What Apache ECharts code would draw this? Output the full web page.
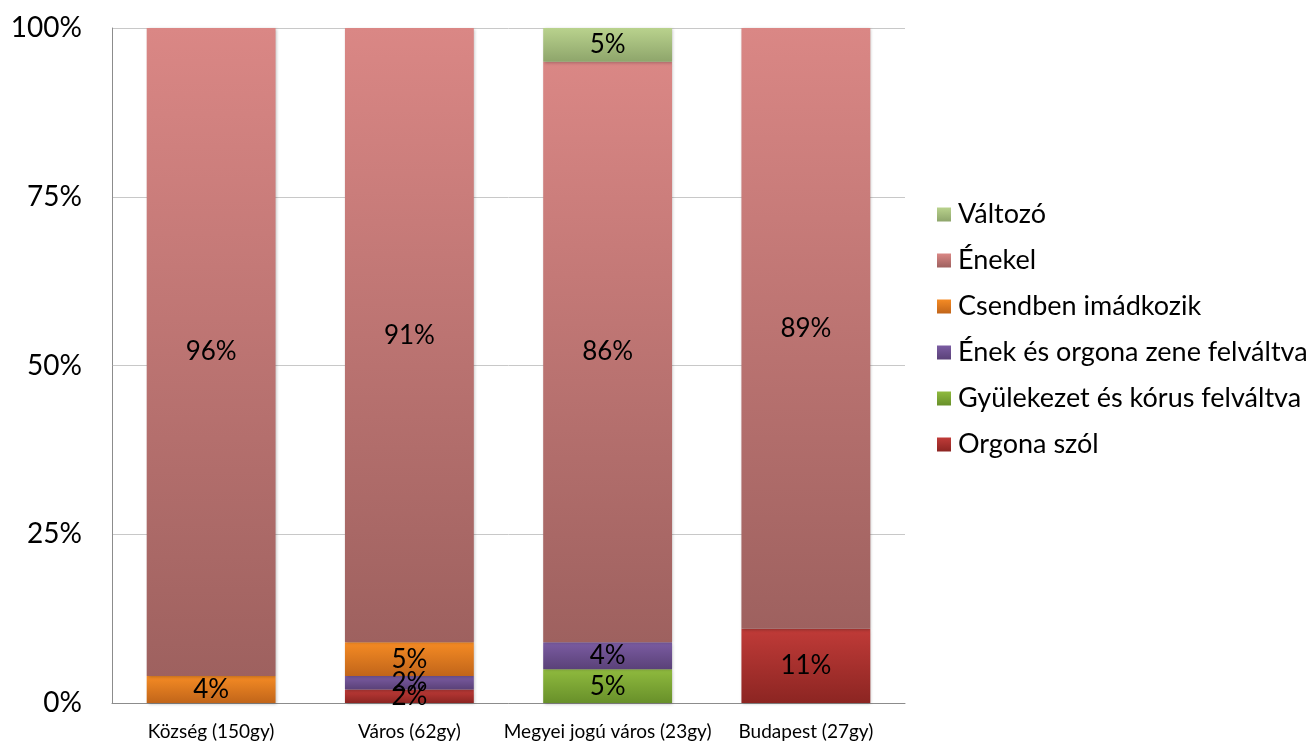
<!DOCTYPE html>
<html><head><meta charset="utf-8">
<script src="https://cdn.jsdelivr.net/npm/echarts@6/dist/echarts.min.js"></script>
<style>html,body{margin:0;padding:0;background:#fff}#c{width:1310px;height:745px}</style>
</head><body><div id="c"></div>
<script>
const categories = ['Község (150gy)', 'Város (62gy)', 'Megyei jogú város (23gy)', 'Budapest (27gy)'];
const orgonaSzol = [0, 2, 0, 11];
const gyulekezet = [0, 0, 5, 0];
const enekOrgona = [0, 2, 4, 0];
const csendben = [4, 5, 0, 0];
const enekel = [96, 91, 86, 89];
const valtozo = [0, 0, 5, 0];
const yTicks = [0, 25, 50, 75, 100];

const seriesDefs = [
  {name: 'Orgona szól', data: orgonaSzol, c: ['#C03B38', '#8C2522']},
  {name: 'Gyülekezet és kórus felváltva', data: gyulekezet, c: ['#8FBA3E', '#68902A']},
  {name: 'Ének és orgona zene felváltva', data: enekOrgona, c: ['#7B5CA2', '#5A4178']},
  {name: 'Csendben imádkozik', data: csendben, c: ['#F58B24', '#C1651A']},
  {name: 'Énekel', data: enekel, c: ['#DA8785', '#9E615F']},
  {name: 'Változó', data: valtozo, c: ['#B9D28D', '#8EA56B']}
];
const font = 'Lato, "Open Sans", sans-serif';
const chart = echarts.init(document.getElementById('c'));
chart.setOption({
  animation: false,
  grid: {left: 112, right: 405, top: 28, bottom: 42, containLabel: false},
  legend: {
    orient: 'vertical', left: 932, top: 196, itemWidth: 14, itemHeight: 14, itemGap: 19,
    icon: 'rect',
    data: seriesDefs.map(s => s.name).reverse(),
    textStyle: {fontFamily: font, fontSize: 27, color: '#000', padding: [0, 0, 0, 2]}
  },
  xAxis: {
    type: 'category', data: categories,
    axisLine: {lineStyle: {color: '#8c8c8c'}},
    axisTick: {show: false},
    axisLabel: {fontFamily: font, fontSize: 19, color: '#000', margin: 19, interval: 0}
  },
  yAxis: {
    type: 'value', min: 0, max: 100, interval: 25,
    axisLine: {show: true, lineStyle: {color: '#8c8c8c'}},
    axisTick: {show: false},
    splitLine: {lineStyle: {color: '#c8c8c8'}},
    axisLabel: {fontFamily: font, fontSize: 28, color: '#000', margin: 30,
      formatter: v => yTicks.includes(v) ? v + '%' : ''}
  },
  series: seriesDefs.map(s => ({
    name: s.name, type: 'bar', stack: 'a', barWidth: '65%',
    data: s.data.map(v => v === 0 ? null : v),
    itemStyle: {
      color: new echarts.graphic.LinearGradient(0, 0, 0, 1, [{offset: 0, color: s.c[0]}, {offset: 1, color: s.c[1]}]),
      shadowColor: 'rgba(0,0,0,0.25)', shadowBlur: 3, shadowOffsetX: 1, shadowOffsetY: 1
    },
    label: {show: true, position: 'inside', fontFamily: font, fontSize: 26, color: '#000',
      formatter: p => p.value + '%'}
  }))
});
</script></body></html>
